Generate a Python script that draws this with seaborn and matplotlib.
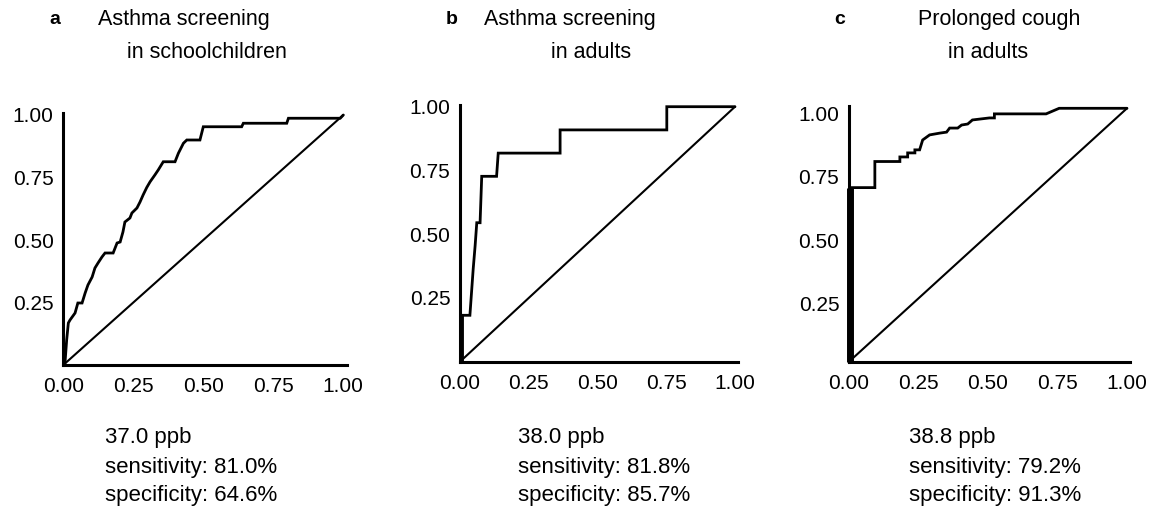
import matplotlib
matplotlib.use("Agg")
import matplotlib.pyplot as plt
import matplotlib.transforms as mtransforms
import seaborn as sns
import pandas as pd

sns.set_style("white")
plt.rcParams['font.family'] = ['Liberation Sans', 'DejaVu Sans']
plt.rcParams['text.color'] = 'black'

# ---------------- data ----------------
panel_letters = ["a", "b", "c"]
title_line1 = ["Asthma screening", "Asthma screening", "Prolonged cough"]
title_line2 = ["in schoolchildren", "in adults", "in adults"]
cutoffs = ["37.0 ppb", "38.0 ppb", "38.8 ppb"]
sensitivity = ["81.0%", "81.8%", "79.2%"]
specificity = ["64.6%", "85.7%", "91.3%"]
x_tick_values = [0.0, 0.25, 0.5, 0.75, 1.0]
x_tick_labels = ["0.00", "0.25", "0.50", "0.75", "1.00"]
y_tick_values = [0.25, 0.5, 0.75, 1.0]
y_tick_labels = ["0.25", "0.50", "0.75", "1.00"]

fpr_a = [0, 0.006, 0.012, 0.018, 0.024, 0.042, 0.052, 0.067, 0.078, 0.088, 0.103,
         0.113, 0.124, 0.138, 0.149, 0.178, 0.192, 0.203, 0.213, 0.22, 0.238, 0.245,
         0.263, 0.274, 0.285, 0.298, 0.31, 0.327, 0.339, 0.357, 0.399, 0.411, 0.429,
         0.441, 0.488, 0.5, 0.637, 0.643, 0.798, 0.804, 0.989, 1.0]
tpr_a = [0, 0.008, 0.1, 0.168, 0.18, 0.208, 0.248, 0.248, 0.288, 0.32, 0.352,
         0.388, 0.408, 0.432, 0.448, 0.448, 0.488, 0.492, 0.532, 0.572, 0.588, 0.608,
         0.628, 0.652, 0.68, 0.71, 0.733, 0.76, 0.78, 0.813, 0.813, 0.847, 0.887,
         0.9, 0.9, 0.953, 0.953, 0.967, 0.967, 0.987, 0.987, 1.0]

fpr_b = [0.003, 0.003, 0.036, 0.042, 0.048, 0.055, 0.061, 0.073, 0.079,
         0.133, 0.139, 0.364, 0.364, 0.752, 0.752, 1.0]
tpr_b = [0, 0.182, 0.182, 0.273, 0.364, 0.455, 0.545, 0.545, 0.727,
         0.727, 0.818, 0.818, 0.909, 0.909, 1.0, 1.0]

fpr_c = [0.005, 0.005, 0.093, 0.093, 0.183,
         0.183, 0.211, 0.211, 0.237, 0.237, 0.254, 0.265, 0.29, 0.326, 0.351,
         0.362, 0.391, 0.405, 0.427, 0.444, 0.505, 0.523, 0.523, 0.709, 0.756, 1.0]
tpr_c = [0, 0.687, 0.687, 0.79, 0.79,
         0.808, 0.808, 0.824, 0.824, 0.836, 0.836, 0.875, 0.895, 0.902, 0.906,
         0.922, 0.922, 0.934, 0.938, 0.954, 0.962, 0.962, 0.978, 0.978, 1.0, 1.0]

diag = [0.0, 1.0]

curves = [(fpr_a, tpr_a), (fpr_b, tpr_b), (fpr_c, tpr_c)]
# width of the dense near-axis first segment (many overlapping steps in the original)
first_seg_width = [2.0, 3.5, 5.0]

# ---------------- layout ----------------
W, H = 1157, 515
fig = plt.figure(figsize=(W / 100, H / 100), dpi=100)
fig.patch.set_facecolor("white")

boxes = [(63.3, 343.3, 365.0, 115.0),
         (460.0, 735.0, 361.7, 106.7),
         (849.0, 1127.0, 361.7, 108.3)]
XMAX, YMAX = 1.012, 1.008
ylabel_shift = [0, 0, -5]   # px

title_pos = [
    (55, 184, 207),
    (452, 570, 591),
    (840, 999, 988),
]
text_x = [105, 518, 909]

for i, (x0, x1, y0, y1) in enumerate(boxes):
    left = x0 / W
    width = (x1 - x0) * XMAX / W
    bottom = 1 - y0 / H
    height = (y0 - y1) * YMAX / H
    ax = fig.add_axes([left, bottom, width, height])
    ax.set_facecolor("none")

    fpr, tpr = curves[i]
    df = pd.DataFrame({"fpr": fpr, "tpr": tpr})
    sns.lineplot(data=df, x="fpr", y="tpr", sort=False, estimator=None,
                 color="black", linewidth=2.0, ax=ax, clip_on=False,
                 solid_joinstyle="miter")
    sns.lineplot(data=df.iloc[:2], x="fpr", y="tpr", sort=False, estimator=None,
                 color="black", linewidth=first_seg_width[i], ax=ax, clip_on=False,
                 solid_capstyle="butt")
    sns.lineplot(x=diag, y=diag, sort=False, estimator=None,
                 color="black", linewidth=1.5, ax=ax, clip_on=False)

    ax.set_xlim(0, XMAX)
    ax.set_ylim(0, YMAX)
    ax.set_xticks(x_tick_values)
    ax.set_xticklabels(x_tick_labels)
    ax.set_yticks(y_tick_values)
    ax.set_yticklabels(y_tick_labels)
    ax.tick_params(axis="both", length=0, labelsize=15, colors="black")
    ax.tick_params(axis="y", pad=7)
    ax.tick_params(axis="x", pad=9)
    if ylabel_shift[i]:
        off = mtransforms.ScaledTranslation(0, ylabel_shift[i] / 100, fig.dpi_scale_trans)
        for lab in ax.get_yticklabels():
            lab.set_transform(lab.get_transform() + off)
    ax.set_xlabel("")
    ax.set_ylabel("")
    for s in ["top", "right"]:
        ax.spines[s].set_visible(False)
    for s in ["left", "bottom"]:
        ax.spines[s].set_linewidth(2.2)
        ax.spines[s].set_color("black")

    lx, c1, c2 = title_pos[i]
    fig.text(lx / W, 1 - 20 / H, panel_letters[i], fontsize=14, fontweight="bold",
             ha="center", va="center", color="black")
    fig.text(c1 / W, 1 - 20 / H, title_line1[i], fontsize=15.5,
             ha="center", va="center", color="black")
    fig.text(c2 / W, 1 - 52 / H, title_line2[i], fontsize=15.5,
             ha="center", va="center", color="black")

    tx = text_x[i] / W
    fig.text(tx, 1 - 438 / H, cutoffs[i], fontsize=16, ha="left", va="center",
             color="black")
    fig.text(tx, 1 - 468 / H, "sensitivity: " + sensitivity[i], fontsize=16,
             ha="left", va="center", color="black")
    fig.text(tx, 1 - 496 / H, "specificity: " + specificity[i], fontsize=16,
             ha="left", va="center", color="black")

fig.savefig("out.png", dpi=100, facecolor="white")
